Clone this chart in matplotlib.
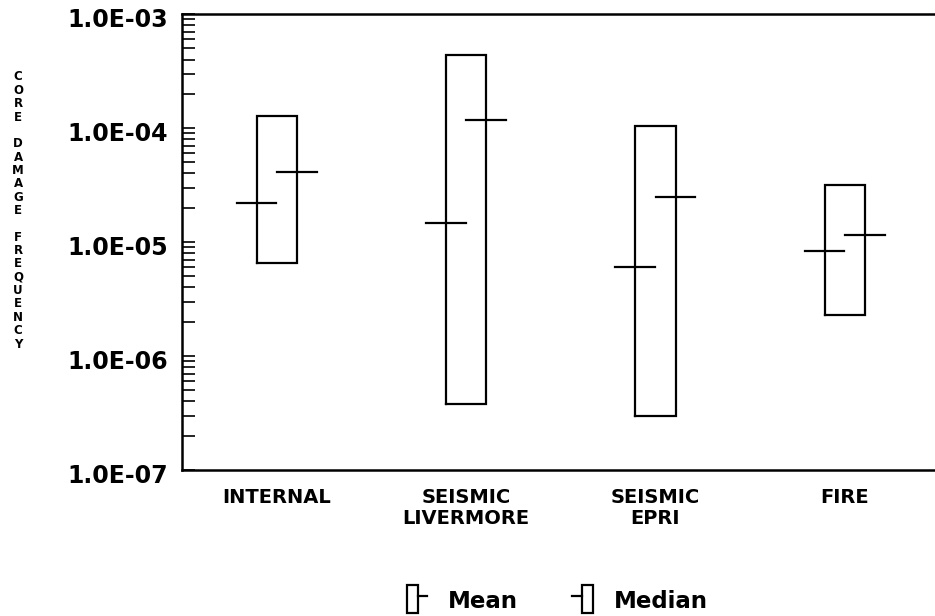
import numpy as np
import matplotlib
matplotlib.use('Agg')
import matplotlib.pyplot as plt
import matplotlib.transforms as mtransforms
from matplotlib.ticker import LogLocator, FuncFormatter, NullFormatter
from matplotlib.legend_handler import HandlerBase
from matplotlib.patches import Rectangle
from matplotlib.lines import Line2D

# data
categories = ['INTERNAL', 'SEISMIC\nLIVERMORE', 'SEISMIC\nEPRI', 'FIRE']
cdf_low = [6.6e-6, 3.8e-7, 3.0e-7, 2.3e-6]
cdf_high = [1.27e-4, 4.4e-4, 1.05e-4, 3.2e-5]
cdf_mean = [2.2e-5, 1.48e-5, 6.1e-6, 8.3e-6]
cdf_median = [4.1e-5, 1.17e-4, 2.5e-5, 1.15e-5]

plt.rcParams['font.family'] = ['DejaVu Sans']
plt.rcParams['font.weight'] = 'bold'

box_w = 0.213
tick_w = 0.21
lw = 1.6


class BoxTickHandler(HandlerBase):
    '''legend icon: small box with a tick sticking out one side'''
    def __init__(self, side):
        super().__init__()
        self.side = side

    def create_artists(self, legend, orig_handle, xdescent, ydescent,
                       width, height, fontsize, trans):
        bw = width * 0.45
        bh = height * 1.7
        y0 = -3
        if self.side == 'right':
            x0 = width * 0.1
            xs = [x0 + bw, x0 + bw + width * 0.35]
        else:
            x0 = width * 0.45
            xs = [x0 - width * 0.4, x0]
        rect = Rectangle((x0, y0), bw, bh, fill=False, lw=lw, ec='black',
                         transform=trans)
        ym = y0 + bh * 0.6
        line = Line2D(xs, [ym, ym], lw=lw, color='black', transform=trans)
        return [rect, line]


fig = plt.figure(figsize=(9.35, 6.16), dpi=100)
ax = fig.add_axes([0.1947, 0.237, 0.81, 0.74])

x = np.arange(1, len(categories) + 1)
for xi, lo, hi, mn, md in zip(x, cdf_low, cdf_high, cdf_mean, cdf_median):
    left = xi - box_w / 2
    right = xi + box_w / 2
    ax.plot([left, right, right, left, left], [lo, lo, hi, hi, lo],
            color='black', lw=lw, solid_joinstyle='miter')
    ax.plot([left - tick_w / 2, left + tick_w / 2], [mn, mn], color='black', lw=lw)
    ax.plot([right - tick_w / 2, right + tick_w / 2], [md, md], color='black', lw=lw)

ax.set_yscale('log')
ax.set_ylim(1e-7, 1e-3)
ax.set_xlim(0.5, 4.5)
ax.yaxis.set_major_locator(LogLocator(base=10, numticks=10))
ax.yaxis.set_minor_locator(LogLocator(base=10, subs=np.arange(2, 10), numticks=20))
ax.yaxis.set_major_formatter(FuncFormatter(lambda v, p: f'{v:.1E}'))
ax.yaxis.set_minor_formatter(NullFormatter())
ax.tick_params(axis='y', which='both', direction='in', length=9, width=1.2,
               labelsize=17, pad=10)
shift = mtransforms.ScaledTranslation(0, -3 / 100, fig.dpi_scale_trans)
for lab in ax.get_yticklabels():
    lab.set_transform(lab.get_transform() + shift)
ax.set_xticks(x)
ax.set_xticklabels(categories, fontsize=14, fontweight='bold', linespacing=1.1)
ax.tick_params(axis='x', length=0, pad=13)
for s in ['left', 'top', 'bottom']:
    ax.spines[s].set_linewidth(1.8)
ax.spines['right'].set_visible(False)

# stacked y-axis title, one letter per row
ylab = 'CORE DAMAGE FREQUENCY'
rows = np.linspace(1 - 77 / 616, 1 - 344 / 616, len(ylab))
for ch, yy in zip(ylab, rows):
    if ch != ' ':
        fig.text(18 / 935, yy, ch, ha='center', va='center',
                 fontsize=8.5, fontweight='bold')

mean_proxy = Line2D([], [])
median_proxy = Line2D([], [])
fig.legend([mean_proxy, median_proxy], ['Mean', 'Median'],
           handler_map={mean_proxy: BoxTickHandler('right'),
                        median_proxy: BoxTickHandler('left')},
           loc='center', bbox_to_anchor=(556 / 935, 1 - 602 / 616), ncol=2,
           frameon=False, handlelength=1.1, handletextpad=0.8,
           columnspacing=2.3, prop={'weight': 'bold', 'size': 16.5})

fig.savefig('out.png', dpi=100)
